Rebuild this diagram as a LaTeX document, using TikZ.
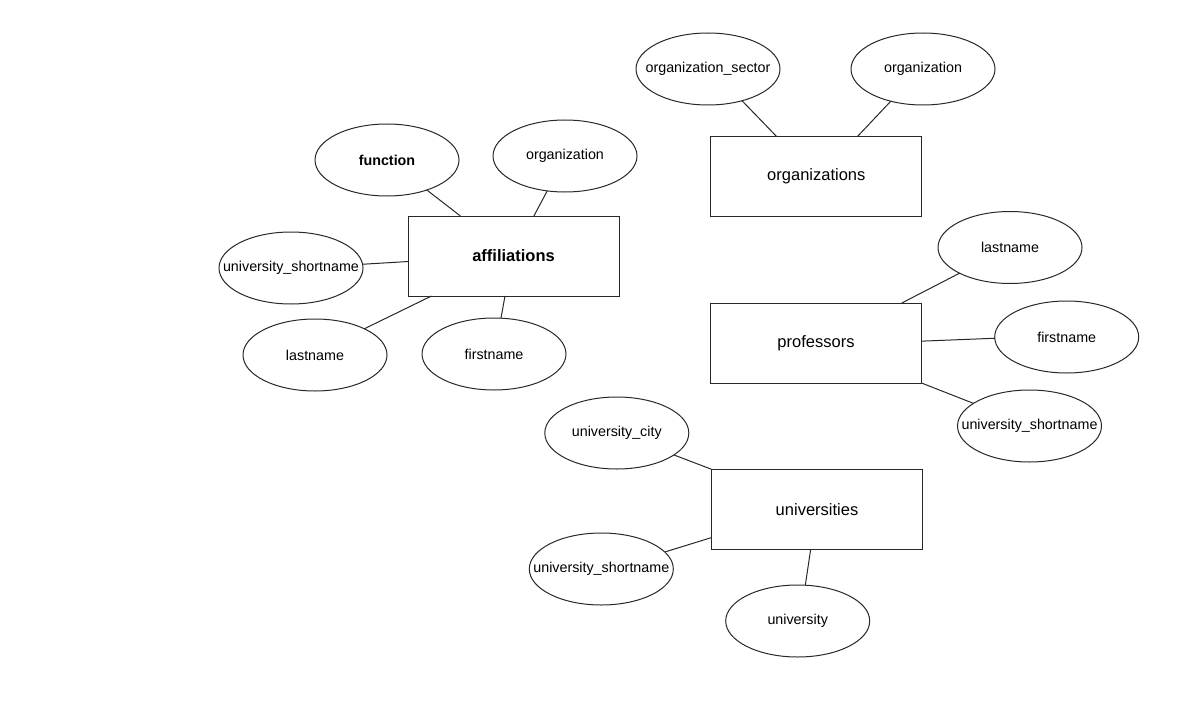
\documentclass[tikz,border=0pt]{standalone}
\usepackage{fontspec}
\setmainfont{Liberation Sans}
\usepackage{tikz}
\usetikzlibrary{shapes.geometric}
\definecolor{traitgris}{RGB}{40, 40, 40}

\begin{document}
\begin{tikzpicture}[x=1pt, y=-1pt,
    entite/.style={draw=traitgris, line width=1pt, rectangle, minimum width=211pt, minimum height=80pt,
      inner sep=0pt, outer sep=0pt, font=\fontsize{16.5}{19}\selectfont},
    attribut/.style={draw=traitgris, line width=1pt, ellipse, minimum width=144pt, minimum height=72pt,
      inner xsep=-70pt, inner ysep=0pt, outer sep=0pt, font=\fontsize{14.3}{17}\selectfont},
    lien/.style={draw=traitgris, line width=1pt}]
    \useasboundingbox (0,0) rectangle (1201,706);
    % affiliations
    \node[entite, font=\fontsize{16.5}{19}\selectfont\bfseries] (aff) at (513.5,256) {affiliations};
    \node[attribut, font=\fontsize{14.3}{17}\selectfont\bfseries] (affFonc) at (387,160) {function};
    \node[attribut] (affOrg) at (565,156) {organization};
    \node[attribut] (affUniv) at (291,268) {university\_shortname};
    \node[attribut] (affNom) at (315,355) {lastname};
    \node[attribut] (affPrenom) at (494,354) {firstname};
    \draw[lien] (affFonc.-37) -- (aff.143);
    \draw[lien] (affOrg.-117) -- (aff.63);
    \draw[lien] (affUniv.3) -- (aff.183);
    \draw[lien] (affNom.28) -- (aff.206.7);
    \draw[lien] (affPrenom.79) -- (aff.258);
    % organizations
    \node[entite] (org) at (816.3,176.2) {organizations};
    \node[attribut] (orgSect) at (708,69) {organization\_sector};
    \node[attribut] (orgNom) at (923,69) {organization};
    \draw[lien] (orgSect.-43) -- (org.135);
    \draw[lien] (orgNom.-135) -- (org.44);
    % professors
    \node[entite] (prof) at (816,343) {professors};
    \node[attribut] (profNom) at (1010,247.5) {lastname};
    \node[attribut] (profPrenom) at (1066.7,337) {firstname};
    \node[attribut] (profUniv) at (1029.5,426) {university\_shortname};
    \draw[lien] (profNom.207) -- (prof.25.6);
    \draw[lien] (profPrenom.181.8) -- (prof.1.6);
    \draw[lien] (profUniv.158) -- (prof.south east);
    % universities
    \node[entite] (univ) at (817,509.3) {universities};
    \node[attribut] (univVille) at (616.8,433) {university\_city};
    \node[attribut] (univCourt) at (601.3,569) {university\_shortname};
    \node[attribut] (univNom) at (797.7,621) {university};
    \draw[lien] (univVille.-21.6) -- (univ.north west);
    \draw[lien] (univCourt.15.6) -- (univ.195.7);
    \draw[lien] (univNom.78.5) -- (univ.261);
\end{tikzpicture}
\end{document}
